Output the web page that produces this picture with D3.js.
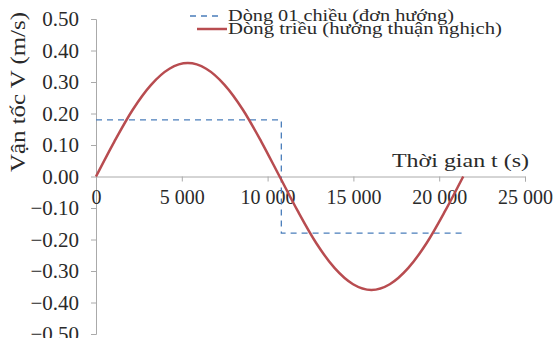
<!DOCTYPE html>
<html><head><meta charset="utf-8">
<script src="https://cdn.jsdelivr.net/npm/d3@7"></script>
<style>body{margin:0;background:#fff}svg{display:block}</style>
</head><body>
<script>
const tidalT = [0,1070,2140,3210,4280,5350,6420,7490,8560,9630,10700,11770,12840,13910,14980,16050,17120,18190,19260,20330,21400];
const tidalV = [0,0.111,0.212,0.291,0.342,0.360,0.342,0.291,0.212,0.111,0,-0.111,-0.212,-0.291,-0.342,-0.360,-0.342,-0.291,-0.212,-0.111,0];
const oneWayT = [0,10800,10800,21400];
const oneWayV = [0.18,0.18,-0.18,-0.18];
const xTicks = [0,5000,10000,15000,20000,25000];
const yTicks = [0.5,0.4,0.3,0.2,0.1,0,-0.1,-0.2,-0.3,-0.4,-0.5];
const legendLabels = ["Dòng 01 chiều (đơn hướng)","Dòng triều (hướng thuận nghịch)"];
const xTitle = "Thời gian t (s)";
const yTitle = "Vận tốc V (m/s)";

const FONT='"Liberation Serif", "DejaVu Serif", serif';
const INK="#2a2a2a";
const W=555,H=338;
const svg=d3.select("body").append("svg").attr("width",W).attr("height",H);
const x=d3.scaleLinear().domain([0,25000]).range([96,525]);
const y=d3.scaleLinear().domain([-0.5,0.5]).range([334,19]);
const fmtX=d=>d===0?"0":d3.format(",")(d).replace(/,/g," ");

// y axis
const ya=svg.append("g").attr("transform",`translate(${x(0)},0)`)
  .call(d3.axisLeft(y).tickValues(yTicks).tickSize(5).tickFormat(d3.format(".2f")));
ya.attr("font-family",FONT).attr("font-size",21);
ya.select(".domain").attr("stroke","#aaa");
ya.selectAll(".tick line").attr("stroke","#aaa");
ya.selectAll(".tick text").attr("x",-17).attr("fill",INK);

// x axis
const xa=svg.append("g").attr("transform",`translate(0,${y(0)})`)
  .call(d3.axisBottom(x).tickValues(xTicks).tickSize(5).tickFormat(fmtX));
xa.attr("font-family",FONT).attr("font-size",20);
xa.select(".domain").attr("stroke","#aaa");
xa.selectAll(".tick line").attr("stroke","#aaa");
xa.selectAll(".tick text").attr("y",13).attr("fill",INK);

// titles
svg.append("text").attr("x",392).attr("y",167)
  .attr("font-family",FONT).attr("font-size",19).attr("fill",INK)
  .attr("textLength",137).attr("lengthAdjust","spacingAndGlyphs").text(xTitle);
svg.append("text").attr("transform","translate(25,92) rotate(-90)").attr("text-anchor","middle")
  .attr("font-family",FONT).attr("font-size",20).attr("fill",INK)
  .attr("textLength",160).attr("lengthAdjust","spacingAndGlyphs").text(yTitle);

// series
const line=d3.line().x(d=>x(d[0])).y(d=>y(d[1]));
svg.append("path").datum(oneWayT.map((t,i)=>[t,oneWayV[i]]))
  .attr("d",line).attr("fill","none").attr("stroke","#4a7ebb").attr("stroke-width",1.3).attr("stroke-dasharray","6,5");
svg.append("path").datum(tidalT.map((t,i)=>[t,tidalV[i]]))
  .attr("d",line.curve(d3.curveCardinal)).attr("fill","none").attr("stroke","#b84c50").attr("stroke-width",2.5);

// legend
const lg=svg.append("g").attr("font-family",FONT).attr("font-size",16);
lg.append("line").attr("x1",190).attr("x2",220).attr("y1",16).attr("y2",16).attr("stroke","#4a7ebb").attr("stroke-width",1.3).attr("stroke-dasharray","6,5");
lg.append("line").attr("x1",197).attr("x2",227).attr("y1",29).attr("y2",29).attr("stroke","#b84c50").attr("stroke-width",2.5);
lg.append("text").attr("x",228).attr("y",21).attr("fill",INK)
  .attr("textLength",226).attr("lengthAdjust","spacingAndGlyphs").text(legendLabels[0]);
lg.append("text").attr("x",228).attr("y",34).attr("fill",INK)
  .attr("textLength",274).attr("lengthAdjust","spacingAndGlyphs").text(legendLabels[1]);
</script>
</body></html>
